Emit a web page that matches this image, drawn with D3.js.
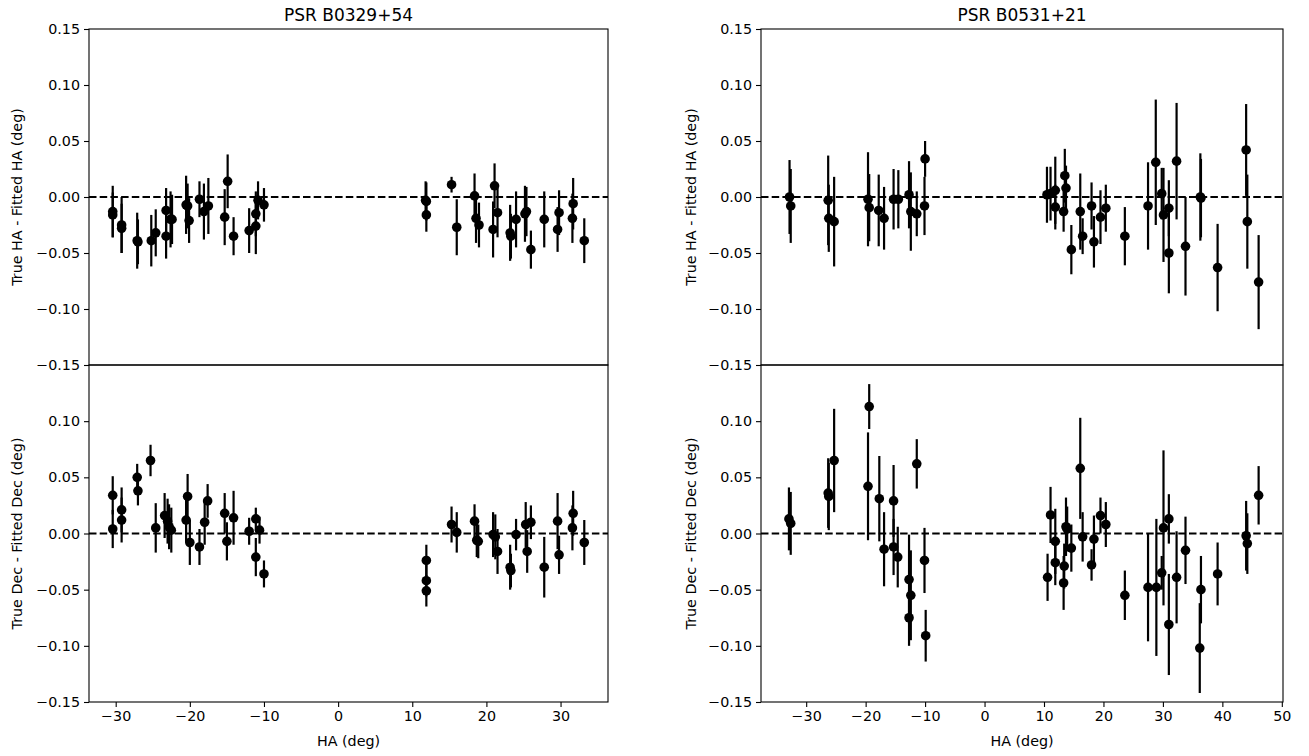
<!DOCTYPE html>
<html><head><meta charset="utf-8">
<script src="https://cdn.jsdelivr.net/npm/d3@7"></script>
<style>body{margin:0;background:#fff}svg{display:block}text{font-family:"DejaVu Sans",sans-serif;fill:#000}</style>
</head><body>
<svg id="c" width="1309" height="756"></svg>
<script>
// ---------- DATA ----------
const titles = ["PSR B0329+54", "PSR B0531+21"];
const yLabels = ["True HA - Fitted HA (deg)", "True Dec - Fitted Dec (deg)"];
const xLabel = "HA (deg)";
const yTicks = [0.15, 0.10, 0.05, 0.00, -0.05, -0.10, -0.15];
const xTicksLeft = [-30, -20, -10, 0, 10, 20, 30];
const xTicksRight = [-30, -20, -10, 0, 10, 20, 30, 40, 50];

// B0329+54, HA residuals
const b0329HaX = [-30.4,-30.4,-29.2,-29.2,-27.1,-27.0,-25.2,-24.6,-23.2,-23.2,-22.6,-22.4,-20.5,-20.3,-20.1,-18.7,-18.1,-17.5,-15.3,-14.9,-14.1,-12.0,-11.1,-11.1,-10.8,-10.0,
  11.8,11.9,11.9,15.3,16.0,18.4,18.6,19.0,20.9,21.1,21.5,23.2,23.3,24.0,25.2,25.4,26.0,27.8,29.6,29.8,31.6,31.7,33.2];
const b0329HaY = [-0.013,-0.016,-0.025,-0.028,-0.039,-0.040,-0.039,-0.032,-0.035,-0.012,-0.020,-0.020,-0.007,-0.008,-0.021,-0.002,-0.013,-0.008,-0.018,0.014,-0.035,-0.030,-0.026,-0.015,-0.003,-0.007,
  -0.003,-0.004,-0.016,0.011,-0.027,0.001,-0.019,-0.025,-0.029,0.010,-0.014,-0.032,-0.035,-0.020,-0.015,-0.013,-0.047,-0.020,-0.029,-0.014,-0.019,-0.006,-0.039];
const b0329HaE = [0.023,0.020,0.025,0.022,0.025,0.020,0.023,0.021,0.020,0.020,0.025,0.022,0.026,0.020,0.020,0.016,0.025,0.025,0.025,0.024,0.017,0.020,0.025,0.020,0.017,0.015,
  0.017,0.017,0.015,0.007,0.025,0.020,0.022,0.020,0.025,0.020,0.022,0.025,0.020,0.025,0.025,0.022,0.017,0.025,0.020,0.020,0.022,0.023,0.020];

// B0329+54, Dec residuals
const b0329DecX = [-30.4,-30.4,-29.2,-29.2,-27.1,-27.0,-25.3,-24.6,-23.4,-23.0,-22.8,-22.5,-20.3,-20.5,-20.0,-18.7,-18.0,-17.6,-15.3,-15.0,-14.1,-12.0,-11.1,-10.6,-11.1,-10.0,
  11.9,11.9,11.9,15.3,16.0,18.4,18.7,18.9,20.9,21.2,21.5,23.2,23.3,24.0,25.3,26.0,25.5,27.8,29.6,29.8,31.7,31.6,33.2];
const b0329DecY = [0.034,0.004,0.021,0.012,0.050,0.038,0.065,0.005,0.016,0.011,0.006,0.003,0.033,0.012,-0.008,-0.012,0.010,0.029,0.018,-0.007,0.014,0.002,0.013,0.003,-0.021,-0.036,
  -0.024,-0.042,-0.051,0.008,0.001,0.011,-0.006,-0.007,-0.001,-0.003,-0.016,-0.030,-0.033,-0.001,0.008,0.010,-0.016,-0.030,0.011,-0.019,0.018,0.005,-0.008];
const b0329DecE = [0.017,0.017,0.020,0.020,0.012,0.013,0.014,0.022,0.020,0.020,0.020,0.020,0.020,0.020,0.020,0.016,0.020,0.015,0.018,0.017,0.024,0.012,0.010,0.012,0.017,0.012,
  0.014,0.014,0.014,0.016,0.018,0.015,0.015,0.015,0.020,0.020,0.020,0.020,0.015,0.014,0.020,0.015,0.019,0.027,0.025,0.017,0.020,0.020,0.020];

// B0531+21, HA residuals
const b0531HaX = [-32.8,-32.6,-26.3,-26.2,-25.3,-19.6,-19.4,-17.8,-16.9,-15.3,-14.5,-12.7,-12.4,-11.4,-10.0,-10.1,
  10.5,11.1,11.9,11.9,13.5,13.7,13.3,14.6,16.1,16.5,18.0,18.4,19.5,20.4,23.6,27.5,28.8,29.8,30.1,31.0,31.0,32.3,33.8,36.3,36.4,39.2,44.0,44.2,46.1];
const b0531HaY = [0.000,-0.008,-0.003,-0.019,-0.022,-0.002,-0.0095,-0.012,-0.019,-0.002,-0.002,0.002,-0.013,-0.015,0.034,-0.008,
  0.002,0.003,0.006,-0.009,0.019,0.008,-0.013,-0.047,-0.013,-0.035,-0.008,-0.040,-0.018,-0.010,-0.035,-0.008,0.031,0.003,-0.016,-0.010,-0.050,0.032,-0.044,0.000,-0.001,-0.063,0.042,-0.022,-0.076];
const b0531HaE = [0.033,0.033,0.040,0.030,0.040,0.042,0.030,0.032,0.028,0.027,0.026,0.030,0.035,0.020,0.016,0.026,
  0.025,0.024,0.030,0.020,0.024,0.020,0.018,0.022,0.034,0.016,0.021,0.023,0.024,0.021,0.026,0.039,0.056,0.023,0.042,0.025,0.036,0.052,0.044,0.039,0.035,0.039,0.041,0.042,0.042];

// B0531+21, Dec residuals
const b0531DecX = [-32.9,-32.6,-26.3,-26.2,-25.3,-19.4,-19.6,-17.7,-16.9,-15.3,-15.3,-14.6,-12.7,-12.4,-12.7,-11.4,-10.1,-9.9,
  10.6,11.1,11.9,11.9,13.7,13.9,13.4,13.3,14.6,16.1,16.5,18.0,18.4,19.5,20.4,23.6,27.5,28.9,29.8,30.1,31.0,31.0,32.3,33.8,36.4,36.2,39.2,44.0,44.2,46.1];
const b0531DecY = [0.013,0.009,0.036,0.033,0.065,0.113,0.042,0.031,-0.014,0.029,-0.012,-0.021,-0.041,-0.055,-0.075,0.062,-0.024,-0.091,
  -0.039,0.0165,-0.007,-0.026,0.006,0.004,-0.029,-0.044,-0.013,0.058,-0.003,-0.028,-0.005,0.016,0.008,-0.055,-0.048,-0.048,-0.035,0.005,0.013,-0.081,-0.039,-0.015,-0.050,-0.102,-0.036,-0.002,-0.009,0.034];
const b0531DecE = [0.028,0.028,0.031,0.030,0.046,0.020,0.048,0.038,0.033,0.032,0.025,0.027,0.040,0.040,0.025,0.022,0.029,0.023,
  0.021,0.025,0.029,0.020,0.026,0.020,0.020,0.024,0.021,0.045,0.022,0.014,0.021,0.016,0.020,0.022,0.048,0.061,0.015,0.069,0.022,0.045,0.041,0.030,0.030,0.040,0.028,0.031,0.027,0.026];

// ---------- LAYOUT ----------
const svg = d3.select("#c");
svg.append("rect").attr("width",1309).attr("height",756).attr("fill","#fff");

const cols = [
  {x0: 89, x1: 608, domain: [-33.6, 36.4], ticks: xTicksLeft, title: titles[0],
   panels: [[b0329HaX,b0329HaY,b0329HaE],[b0329DecX,b0329DecY,b0329DecE]], ylabX: 22},
  {x0: 761, x1: 1283, domain: [-37.6, 50.2], ticks: xTicksRight, title: titles[1],
   panels: [[b0531HaX,b0531HaY,b0531HaE],[b0531DecX,b0531DecY,b0531DecE]], ylabX: 696}
];
const rows = [{y0: 29, y1: 365}, {y0: 365, y1: 702}];
const fmt = v => (v < 0 ? "\u2212" : "") + Math.abs(v).toFixed(2);

cols.forEach((col, ci) => {
  const x = d3.scaleLinear().domain(col.domain).range([col.x0, col.x1]);
  rows.forEach((row, ri) => {
    const y = d3.scaleLinear().domain([-0.15, 0.15]).range([row.y1, row.y0]);
    const g = svg.append("g");
    const [xs, ys, es] = col.panels[ri];
    const n = Math.min(xs.length, ys.length, es.length);
    const data = d3.range(n).map(i => ({x: xs[i], y: ys[i], e: es[i]}));

    g.append("line").attr("x1", col.x0).attr("x2", col.x1)
      .attr("y1", y(0)).attr("y2", y(0))
      .attr("stroke", "#000").attr("stroke-width", 2).attr("stroke-dasharray", "7.5,3.2");

    g.selectAll("line.eb").data(data).join("line").attr("class","eb")
      .attr("x1", d => x(d.x)).attr("x2", d => x(d.x))
      .attr("y1", d => y(d.y - d.e)).attr("y2", d => y(d.y + d.e))
      .attr("stroke", "#000").attr("stroke-width", 2.2);
    g.selectAll("circle").data(data).join("circle")
      .attr("cx", d => x(d.x)).attr("cy", d => y(d.y)).attr("r", 4.8).attr("fill", "#000");

    const yt = ri === 0 ? yTicks : yTicks.filter(t => t < 0.14);
    const ya = d3.axisLeft(y).tickValues(yt).tickFormat(fmt).tickSize(5).tickPadding(4);
    const yg = g.append("g").attr("transform", `translate(${col.x0},0)`).call(ya);
    yg.select(".domain").remove();
    yg.selectAll("line").attr("stroke-width", 1.1);
    yg.selectAll("text").style("font-size", "14.3px").style("font-family", "DejaVu Sans");

    g.append("rect").attr("x", col.x0).attr("y", row.y0)
      .attr("width", col.x1 - col.x0).attr("height", row.y1 - row.y0)
      .attr("fill", "none").attr("stroke", "#000").attr("stroke-width", 1.1);

    g.append("text").attr("transform", `translate(${col.ylabX},${(row.y0 + row.y1) / 2}) rotate(-90)`)
      .attr("text-anchor", "middle").style("font-size", "14.3px").text(yLabels[ri]);

    if (ri === 1) {
      const xa = d3.axisBottom(x).tickValues(col.ticks).tickFormat(v => (v < 0 ? "\u2212" : "") + Math.abs(v)).tickSize(5).tickPadding(4);
      const xg = g.append("g").attr("transform", `translate(0,${row.y1})`).call(xa);
      xg.select(".domain").remove();
      xg.selectAll("line").attr("stroke-width", 1.1);
      xg.selectAll("text").style("font-size", "14.3px").style("font-family", "DejaVu Sans");
      g.append("text").attr("x", (col.x0 + col.x1) / 2).attr("y", 746)
        .attr("text-anchor", "middle").style("font-size", "14.3px").text(xLabel);
    } else {
      g.append("text").attr("x", (col.x0 + col.x1) / 2).attr("y", 21)
        .attr("text-anchor", "middle").style("font-size", "17px").text(col.title);
    }
  });
});
</script>
</body></html>
